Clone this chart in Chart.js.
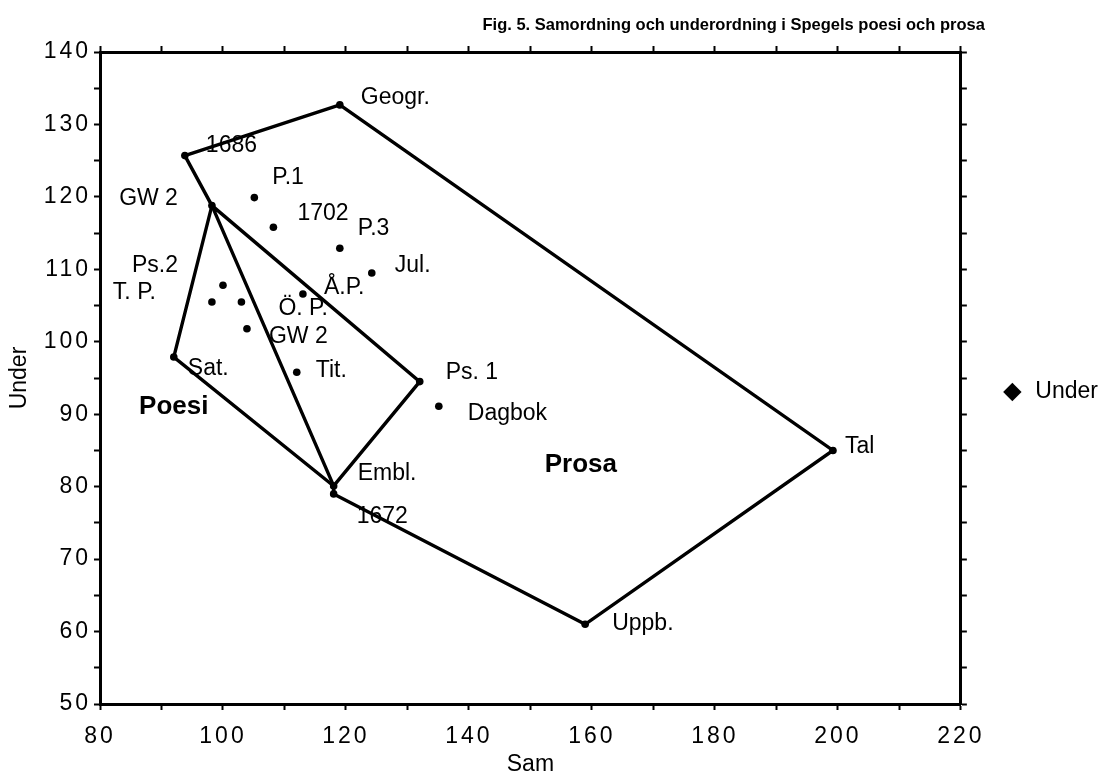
<!DOCTYPE html>
<html>
<head>
<meta charset="utf-8">
<script src="https://cdn.jsdelivr.net/npm/chart.js@4"></script>
<style>
  body { margin: 0; background: #fff; }
  #wrap { width: 1101px; height: 784px; }
</style>
</head>
<body>
<div id="wrap"><canvas id="chart" width="1101" height="784"></canvas></div>
<script>
// Texts and their values
const names = ['Geogr.', '1686', 'GW 2', 'P.1', '1702', 'P.3', 'Jul.', 'Å.P.', 'Ps.2', 'T. P.',
               'Ö. P.', 'GW 2', 'Sat.', 'Tit.', 'Ps. 1', 'Dagbok', 'Embl.', '1672', 'Tal', 'Uppb.'];
const sam = [119.0, 93.8, 98.2, 105.1, 108.2, 119.0, 124.2, 113.0, 100.0, 98.2,
             103.0, 103.9, 92.0, 112.0, 132.0, 135.1, 118.0, 118.0, 199.2, 158.9];
const under = [132.7, 125.7, 118.8, 119.9, 115.8, 112.9, 109.5, 106.6, 107.8, 105.5,
               105.5, 101.8, 97.9, 95.8, 94.5, 91.1, 80.1, 79.0, 85.0, 61.0];

// outlines drawn round the groups (indexes into the arrays above)
const outerHull = [1, 0, 18, 19, 17, 16, 12, 2, 1];
const innerHull = [16, 2, 14, 16];

// group names written inside the plot
const regionNames = ['Poesi', 'Prosa'];
const regionSam = [92.0, 158.2];
const regionUnder = [91.0, 83.0];

const xTicks = [80, 100, 120, 140, 160, 180, 200, 220];
const yTicks = [50, 60, 70, 80, 90, 100, 110, 120, 130, 140];

// where each point's text sits, in pixels from the point
const labelOffsets = [
    [21, -7], [21, -10], [-34, -7, 'right'], [18, -20], [24, -14], [18, -20], [23, -7], [21, -6],
    [-45, -20, 'right'], [-56, -9, 'right'], [37, 7], [22, 8], [14, 12], [19, -2], [26, -9],
    [29, 7], [24, -12], [23, 23], [12, -4], [27, -1]
];

const FONT = '"Liberation Sans", Arial, Helvetica, sans-serif';
Chart.defaults.font.family = FONT;
Chart.defaults.color = '#000';

function hullData(idx) {
    return idx.map(i => ({ x: sam[i], y: under[i] }));
}

const gridOpts = { drawOnChartArea: false, color: '#000', tickLength: 6, tickWidth: 2 };
const borderOpts = { color: '#000', width: 3 };

// spaced-out digits on the axes, like the original
const spacedTicks = {
    id: 'spacedTicks',
    beforeDraw(chart) {
        ['x', 'y'].forEach(id => {
            const s = chart.scales[id];
            if (s._spaced) return;
            const orig = s.drawLabels;
            s.drawLabels = function (area) {
                this.ctx.letterSpacing = '3px';
                orig.call(this, area);
                this.ctx.letterSpacing = '0px';
            };
            s._spaced = true;
        });
    }
};

const pointLabels = {
    id: 'pointLabels',
    afterDatasetsDraw(chart) {
        const ctx = chart.ctx;
        const meta = chart.getDatasetMeta(0);
        ctx.save();
        ctx.fillStyle = '#000';
        ctx.textBaseline = 'middle';
        ctx.font = '23px ' + FONT;
        meta.data.forEach((pt, i) => {
            const off = labelOffsets[i];
            ctx.textAlign = off[2] || 'left';
            ctx.fillText(names[i], pt.x + off[0], pt.y + off[1]);
        });
        ctx.font = 'bold 26px ' + FONT;
        ctx.textAlign = 'center';
        regionNames.forEach((n, i) => {
            ctx.fillText(n, chart.scales.x.getPixelForValue(regionSam[i]),
                chart.scales.y.getPixelForValue(regionUnder[i]));
        });
        // figure caption
        ctx.font = 'bold 16.5px ' + FONT;
        ctx.textAlign = 'right';
        ctx.fillText('Fig. 5. Samordning och underordning i Spegels poesi och prosa',
            chart.chartArea.right + 24, 25);
        ctx.restore();
    }
};

new Chart(document.getElementById('chart'), {
    type: 'scatter',
    data: {
        datasets: [{
            label: 'Under',
            data: sam.map((x, i) => ({ x: x, y: under[i] })),
            pointRadius: 3.8,
            pointBackgroundColor: '#000',
            pointBorderWidth: 0,
            order: 0
        }, {
            label: 'outer',
            data: hullData(outerHull),
            showLine: true,
            borderColor: '#000',
            borderWidth: 3.4,
            pointRadius: 0,
            order: 1
        }, {
            label: 'inner',
            data: hullData(innerHull),
            showLine: true,
            borderColor: '#000',
            borderWidth: 3.4,
            pointRadius: 0,
            order: 1
        }]
    },
    options: {
        responsive: false,
        animation: false,
        layout: { padding: { left: 2, right: -7, top: 0, bottom: 0 }, autoPadding: false },
        plugins: {
            legend: {
                position: 'right',
                labels: {
                    usePointStyle: true,
                    pointStyle: 'rectRot',
                    boxWidth: 23,
                    boxHeight: 13,
                    color: '#000',
                    font: { size: 23 },
                    filter: item => item.datasetIndex === 0
                }
            },
            tooltip: { enabled: false }
        },
        scales: {
            x: {
                type: 'linear', position: 'bottom', min: 80, max: 220,
                ticks: {
                    stepSize: 10, autoSkip: false, maxRotation: 0, padding: 13,
                    font: { size: 23 }, color: '#000',
                    callback: v => xTicks.includes(v) ? v : ''
                },
                grid: gridOpts, border: borderOpts,
                title: { display: true, text: 'Sam', font: { size: 23 }, padding: { top: 0, bottom: 6 } },
                afterFit: s => { s.height = 80; }
            },
            y: {
                type: 'linear', position: 'left', min: 50, max: 140,
                ticks: {
                    stepSize: 5, autoSkip: false, padding: 3,
                    font: { size: 23 }, color: '#000',
                    callback: v => yTicks.includes(v) ? v : ''
                },
                grid: gridOpts, border: borderOpts,
                title: { display: true, text: 'Under', font: { size: 23 }, padding: { top: 4, bottom: 0 } },
                afterFit: s => { s.width = 98; }
            },
            x2: {
                type: 'linear', position: 'top', min: 80, max: 220,
                ticks: { stepSize: 10, autoSkip: false, display: false },
                grid: gridOpts, border: borderOpts,
                afterFit: s => { s.height = 52; }
            },
            y2: {
                type: 'linear', position: 'right', min: 50, max: 140,
                ticks: { stepSize: 5, autoSkip: false, display: false },
                grid: gridOpts, border: borderOpts,
                afterFit: s => { s.width = 30; }
            }
        }
    },
    plugins: [spacedTicks, pointLabels]
});
</script>
</body>
</html>
